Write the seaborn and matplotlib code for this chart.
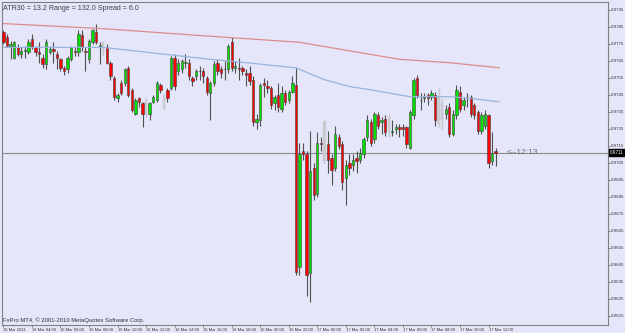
import numpy as np
import pandas as pd
import matplotlib
matplotlib.use('Agg')
import matplotlib.pyplot as plt
import matplotlib.transforms as mtrans
import seaborn as sns

# 15 minute candles, 16-17 Mar 2011
opens = [
    0.9782, 0.9779, 0.9774, 0.9767, 0.9773, 0.9769, 0.9771, 0.9770, 0.9778, 0.9773,
    0.9770, 0.9767, 0.9763, 0.9770, 0.9772, 0.9769, 0.9766, 0.9761, 0.9760, 0.9766,
    0.9771, 0.9770, 0.9780, 0.9771, 0.9766, 0.9776, 0.9782, 0.9774, 0.9776, 0.9773,
    0.9764, 0.9755, 0.9743, 0.9752, 0.9752, 0.9761, 0.9748, 0.9734, 0.9743, 0.9740,
    0.9742, 0.9734, 0.9741, 0.9742, 0.9751, 0.9745, 0.9748, 0.9749, 0.9767, 0.9759,
    0.9760, 0.9764, 0.9764, 0.9755, 0.9756, 0.9759, 0.9759, 0.9755, 0.9746, 0.9752,
    0.9764, 0.9760, 0.9760, 0.9760, 0.9776, 0.9761, 0.9761, 0.9761, 0.9758, 0.9758,
    0.9754, 0.9729, 0.9730, 0.9752, 0.9750, 0.9749, 0.9740, 0.9745, 0.9737, 0.9746,
    0.9742, 0.9747, 0.9751, 0.9644, 0.9712, 0.9710, 0.9640, 0.9702, 0.9687, 0.9717,
    0.9729, 0.9716, 0.9708, 0.9702, 0.9720, 0.9716, 0.9696, 0.9705, 0.9704, 0.9708,
    0.9707, 0.9710, 0.9720, 0.9729, 0.9719, 0.9733, 0.9729, 0.9731, 0.9732, 0.9723,
    0.9725, 0.9726, 0.9726, 0.9726, 0.9714, 0.9733, 0.9755, 0.9742, 0.9743, 0.9745,
    0.9744, 0.9745, 0.9744, 0.9740, 0.9734, 0.9738, 0.9722, 0.9733, 0.9747, 0.9739,
    0.9743, 0.9744, 0.9739, 0.9735, 0.9724, 0.9727, 0.9733, 0.9706, 0.9712,
]
highs = [
    0.9783, 0.9781, 0.9777, 0.9777, 0.9775, 0.9773, 0.9774, 0.9778, 0.9781, 0.9774,
    0.9776, 0.9769, 0.9778, 0.9774, 0.9776, 0.9771, 0.9767, 0.9762, 0.9768, 0.9774,
    0.9773, 0.9783, 0.9783, 0.9773, 0.9778, 0.9784, 0.9787, 0.9776, 0.9777, 0.9775,
    0.9765, 0.9756, 0.9746, 0.9754, 0.9761, 0.9762, 0.9749, 0.9743, 0.9744, 0.9741,
    0.9743, 0.9741, 0.9745, 0.9753, 0.9752, 0.9746, 0.9749, 0.9768, 0.9769, 0.9766,
    0.9766, 0.9769, 0.9766, 0.9756, 0.9760, 0.9762, 0.9761, 0.9756, 0.9753, 0.9765,
    0.9766, 0.9762, 0.9765, 0.9775, 0.9779, 0.9765, 0.9767, 0.9762, 0.9760, 0.9762,
    0.9756, 0.9734, 0.9752, 0.9755, 0.9754, 0.9750, 0.9745, 0.9752, 0.9750, 0.9748,
    0.9748, 0.9756, 0.9761, 0.9717, 0.9717, 0.9712, 0.9724, 0.9705, 0.9723, 0.9720,
    0.9730, 0.9724, 0.9710, 0.9727, 0.9722, 0.9718, 0.9707, 0.9710, 0.9710, 0.9712,
    0.9714, 0.9720, 0.9733, 0.9731, 0.9735, 0.9735, 0.9732, 0.9733, 0.9734, 0.9730,
    0.9728, 0.9728, 0.9728, 0.9727, 0.9736, 0.9755, 0.9757, 0.9746, 0.9746, 0.9746,
    0.9748, 0.9747, 0.9749, 0.9743, 0.9739, 0.9740, 0.9736, 0.9751, 0.9750, 0.9744,
    0.9746, 0.9745, 0.9740, 0.9736, 0.9735, 0.9736, 0.9734, 0.9723, 0.9714,
]
lows = [
    0.9775, 0.9773, 0.9766, 0.9766, 0.9768, 0.9767, 0.9767, 0.9769, 0.9772, 0.9768,
    0.9764, 0.9761, 0.9760, 0.9769, 0.9764, 0.9760, 0.9759, 0.9757, 0.9758, 0.9765,
    0.9768, 0.9768, 0.9771, 0.9759, 0.9764, 0.9775, 0.9775, 0.9763, 0.9768, 0.9763,
    0.9754, 0.9742, 0.9741, 0.9745, 0.9750, 0.9744, 0.9735, 0.9733, 0.9738, 0.9726,
    0.9732, 0.9730, 0.9740, 0.9741, 0.9746, 0.9736, 0.9741, 0.9748, 0.9748, 0.9757,
    0.9758, 0.9761, 0.9754, 0.9750, 0.9754, 0.9754, 0.9752, 0.9745, 0.9730, 0.9750,
    0.9757, 0.9755, 0.9754, 0.9758, 0.9759, 0.9758, 0.9754, 0.9757, 0.9750, 0.9751,
    0.9727, 0.9725, 0.9727, 0.9744, 0.9746, 0.9737, 0.9736, 0.9735, 0.9735, 0.9739,
    0.9740, 0.9746, 0.9639, 0.9639, 0.9707, 0.9627, 0.9623, 0.9683, 0.9685, 0.9712,
    0.9705, 0.9699, 0.9692, 0.9700, 0.9713, 0.9689, 0.9680, 0.9698, 0.9700, 0.9699,
    0.9705, 0.9708, 0.9718, 0.9715, 0.9717, 0.9725, 0.9722, 0.9721, 0.9720, 0.9721,
    0.9722, 0.9720, 0.9721, 0.9714, 0.9713, 0.9731, 0.9743, 0.9736, 0.9741, 0.9739,
    0.9742, 0.9727, 0.9726, 0.9725, 0.9731, 0.9720, 0.9721, 0.9731, 0.9735, 0.9736,
    0.9738, 0.9732, 0.9731, 0.9722, 0.9722, 0.9725, 0.9702, 0.9704, 0.9703,
]
closes = [
    0.9776, 0.9774, 0.9775, 0.9776, 0.9769, 0.9771, 0.9771, 0.9776, 0.9773, 0.9770,
    0.9769, 0.9763, 0.9776, 0.9772, 0.9771, 0.9767, 0.9761, 0.9759, 0.9767, 0.9773,
    0.9770, 0.9781, 0.9773, 0.9770, 0.9777, 0.9783, 0.9776, 0.9774, 0.9769, 0.9764,
    0.9756, 0.9744, 0.9745, 0.9746, 0.9760, 0.9745, 0.9736, 0.9742, 0.9741, 0.9734,
    0.9733, 0.9740, 0.9744, 0.9752, 0.9748, 0.9737, 0.9743, 0.9767, 0.9750, 0.9764,
    0.9765, 0.9764, 0.9756, 0.9753, 0.9759, 0.9759, 0.9756, 0.9747, 0.9752, 0.9763,
    0.9759, 0.9758, 0.9760, 0.9774, 0.9761, 0.9762, 0.9760, 0.9759, 0.9757, 0.9753,
    0.9729, 0.9731, 0.9751, 0.9751, 0.9749, 0.9739, 0.9744, 0.9738, 0.9746, 0.9741,
    0.9747, 0.9752, 0.9641, 0.9710, 0.9710, 0.9639, 0.9700, 0.9686, 0.9717, 0.9716,
    0.9706, 0.9707, 0.9701, 0.9722, 0.9715, 0.9694, 0.9704, 0.9702, 0.9707, 0.9706,
    0.9711, 0.9719, 0.9730, 0.9717, 0.9734, 0.9727, 0.9730, 0.9723, 0.9724, 0.9724,
    0.9726, 0.9725, 0.9725, 0.9716, 0.9735, 0.9754, 0.9745, 0.9742, 0.9744, 0.9743,
    0.9746, 0.9730, 0.9728, 0.9730, 0.9737, 0.9722, 0.9734, 0.9748, 0.9737, 0.9742,
    0.9743, 0.9734, 0.9733, 0.9724, 0.9733, 0.9734, 0.9705, 0.9711, 0.9711,
]
# bars drawn in light grey
ghost_bars = [28, 40, 45, 90, 108, 122, 123]

# moving averages (read at a few bars)
ma_slow_bar = [0, 28, 55, 83, 97, 111, 125, 139]
ma_slow = [0.9787, 0.9784, 0.9780, 0.9776, 0.9771, 0.9766, 0.9764, 0.9761]
ma_fast_bar = [0, 28, 45, 58, 68, 82, 90, 97, 103, 114, 125, 131, 139]
ma_fast = [0.9773, 0.9773, 0.9769, 0.9766, 0.9764, 0.9761, 0.9754, 0.9750,
           0.9748, 0.9744, 0.9744, 0.9743, 0.9741]

current_price = 0.9711
price_ticks = [0.9795, 0.9785, 0.9775, 0.9765, 0.9755, 0.9745, 0.9735, 0.9725,
               0.9715, 0.9705, 0.9695, 0.9685, 0.9675, 0.9665, 0.9655, 0.9645,
               0.9635, 0.9625, 0.9615]
time_labels = ['16 Mar 2011', '16 Mar 04:00', '16 Mar 06:00', '16 Mar 08:00',
               '16 Mar 10:00', '16 Mar 12:00', '16 Mar 14:00', '16 Mar 16:00',
               '16 Mar 18:00', '16 Mar 20:00', '16 Mar 22:00', '17 Mar 00:00',
               '17 Mar 02:00', '17 Mar 04:00', '17 Mar 06:00', '17 Mar 08:00',
               '17 Mar 10:00', '17 Mar 12:00']
info_text = 'ATR30 = 13.2 Range = 132.0 Spread = 6.0'
footer_text = 'FxPro MT4, \u00a9 2001-2010 MetaQuotes Software Corp.'
timer_text = '<--12:13'

df = pd.DataFrame({'open': opens, 'high': highs, 'low': lows, 'close': closes})
df['bar'] = np.arange(len(df))
df['ghost'] = df['bar'].isin(ghost_bars)

bg = '#e6e6fa'
sns.set_style('white')
plt.rcParams['font.family'] = ['Liberation Sans', 'DejaVu Sans']

fig = plt.figure(figsize=(6.25, 3.33), dpi=100, facecolor=bg)
ax = fig.add_axes([2 / 625, 8 / 333, 606 / 625, 323 / 333])
ax.set_facecolor(bg)

solid = df[~df['ghost']]
ghost = df[df['ghost']]

# wicks
ax.vlines(ghost['bar'], ghost['low'], ghost['high'], color='#c4c4cc', lw=1.0, zorder=1)
ax.vlines(solid['bar'], solid['low'], solid['high'], color='#505050', lw=0.8, zorder=2)

# bodies
body_low = np.minimum(df['open'], df['close'])
body_h = np.maximum(np.abs(df['close'] - df['open']), 0.00003)
up = df['close'] >= df['open']
colors = np.where(up, '#00e000', '#ff0000')
m = ~df['ghost']
ax.bar(df['bar'][m], body_h[m], bottom=body_low[m], width=0.66,
       color=colors[m], edgecolor='#404040', linewidth=0.4, zorder=3)
ax.bar(df['bar'][~m], body_h[~m], bottom=body_low[~m], width=0.62,
       color='#cacad2', edgecolor='#cacad2', linewidth=0.3, zorder=1)

# moving averages
sns.lineplot(x=ma_slow_bar, y=ma_slow, color='#dc8c8c', lw=0.9, ax=ax, zorder=4)
sns.lineplot(x=ma_fast_bar, y=ma_fast, color='#96b4dc', lw=0.9, ax=ax, zorder=4)

# current price
ax.axhline(current_price, color='#8a8a8a', lw=0.8, zorder=0)

ax.set_xlim(-0.4, 169.5)
ax.set_ylim(0.96097, 0.97997)

ax.yaxis.tick_right()
ax.set_yticks(price_ticks)
ax.set_yticklabels(['%.4f' % p for p in price_ticks])
ax.set_xticks(np.arange(0, 8 * len(time_labels), 8))
ax.set_xticklabels(time_labels)
for lab in ax.get_xticklabels():
    lab.set_horizontalalignment('left')
ax.tick_params(axis='both', length=1.5, width=0.6, color='#606060',
               labelcolor='#303030', pad=0.8)
ax.tick_params(axis='y', direction='out', right=True, left=False, labelsize=3.2)
ax.tick_params(axis='x', direction='out', bottom=True, labelsize=3.0)
for s in ax.spines.values():
    s.set_color('#808080')
    s.set_linewidth(0.8)

ax.text(0.002, 0.992, info_text, transform=ax.transAxes, ha='left', va='top',
        fontsize=5.1, color='#404040')
ax.text(0.002, 0.006, footer_text, transform=ax.transAxes, ha='left', va='bottom',
        fontsize=4.2, color='#303030')
ax.text(141.2, current_price, timer_text, ha='left', va='center', fontsize=6,
        color='#707070')
trans = mtrans.blended_transform_factory(ax.transAxes, ax.transData)
ax.text(1.003, current_price, '%.4f' % current_price, transform=trans, ha='left',
        va='center', fontsize=3.3, color='white',
        bbox=dict(facecolor='black', edgecolor='black', pad=0.6))

fig.savefig('out.png', dpi=100, facecolor=bg)
